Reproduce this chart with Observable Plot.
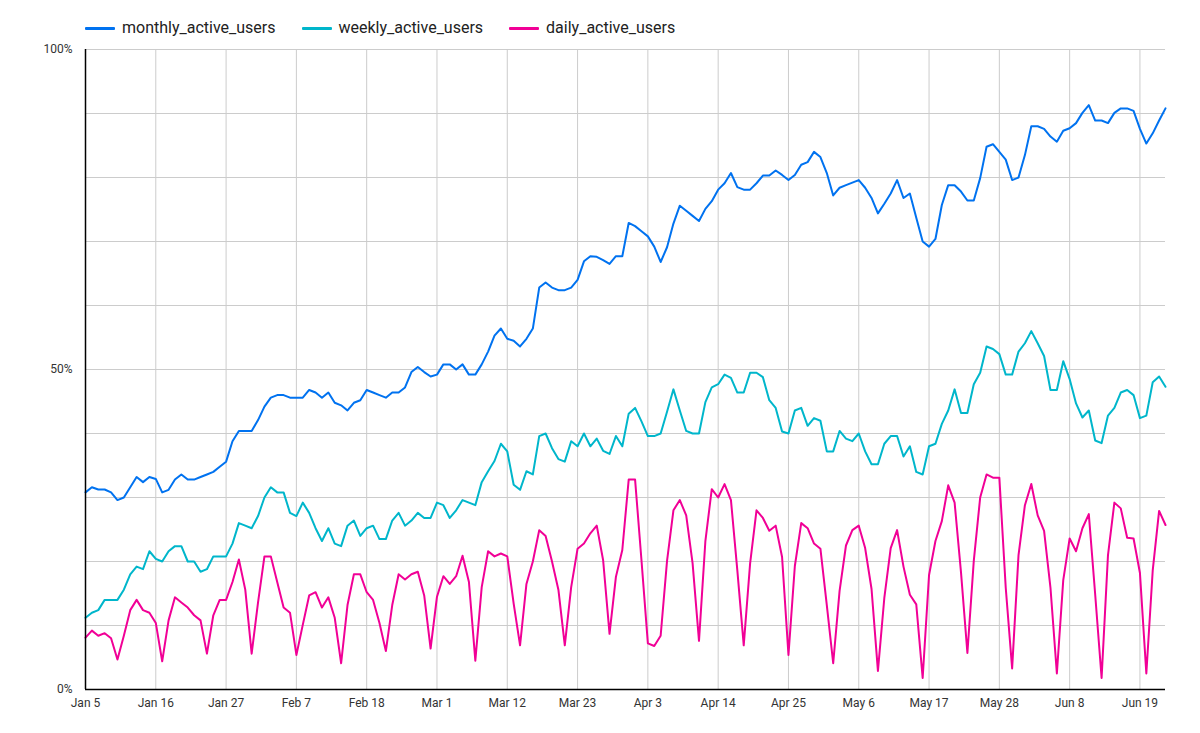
<!DOCTYPE html>
<html>
<head>
<meta charset="utf-8">
<script src="https://cdn.jsdelivr.net/npm/d3@7"></script>
<script src="https://cdn.jsdelivr.net/npm/@observablehq/plot@0.6"></script>
<style>
  body { margin: 0; background: #fff; font-family: Roboto, "Noto Sans", sans-serif; }
  #legend { height: 40px; box-sizing: border-box; padding-left: 85px; padding-top: 18px; display: flex; gap: 26px; font-size: 16px; color: #222; }
  .item { display: flex; align-items: center; gap: 7px; height: 20px; line-height: 20px; }
  .sw { width: 30px; height: 3px; border-radius: 1px; }
</style>
</head>
<body>
<div id="legend"></div>
<div id="chart"></div>
<script>
const seriesNames = ["monthly_active_users", "weekly_active_users", "daily_active_users"];
const seriesColors = ["#0072f0", "#00b6cb", "#f10096"];
const startDate = "2019-01-05";
const endDate = "2019-06-23";
const tickLabels = ["Jan 5","Jan 16","Jan 27","Feb 7","Feb 18","Mar 1","Mar 12","Mar 23","Apr 3","Apr 14","Apr 25","May 6","May 17","May 28","Jun 8","Jun 19"];
const yTicks = [0, 50, 100];

const monthly = [30.8,31.6,31.25,31.25,30.8,29.6,30.0,31.6,33.2,32.4,33.2,32.9,30.8,31.2,32.8,33.6,32.8,32.8,33.2,33.6,
34.0,34.8,35.6,38.8,40.4,40.4,40.4,42.1,44.2,45.6,46.0,46.0,45.6,45.6,45.6,46.8,46.4,45.6,46.4,44.8,
44.4,43.6,44.8,45.2,46.8,46.4,46.0,45.6,46.4,46.4,47.2,49.6,50.4,49.6,48.9,49.2,50.8,50.8,50.0,50.8,
49.2,49.2,50.8,52.8,55.3,56.4,54.8,54.5,53.6,54.8,56.4,62.8,63.6,62.8,62.4,62.4,62.8,64.0,66.9,67.7,
67.6,67.1,66.5,67.7,67.7,72.9,72.4,71.6,70.8,69.2,66.8,69.1,72.8,75.6,74.8,74.0,73.2,75.1,76.3,78.1,
79.1,80.7,78.5,78.1,78.1,79.1,80.3,80.3,81.1,80.4,79.6,80.4,82.0,82.4,84.0,83.2,80.7,77.2,78.4,78.8,
79.2,79.6,78.4,76.8,74.4,75.9,77.5,79.6,76.8,77.5,73.7,70.0,69.2,70.4,75.7,78.8,78.8,77.8,76.4,76.4,
79.9,84.8,85.2,84.0,82.8,79.6,80.0,83.5,88.0,88.0,87.6,86.4,85.6,87.3,87.7,88.5,90.1,91.3,88.9,88.9,
88.5,90.1,90.8,90.8,90.4,87.6,85.3,86.9,88.9,90.8];

const weekly = [11.2,12.0,12.4,14.0,14.0,14.0,15.6,18.0,19.2,18.8,21.6,20.4,20.0,21.6,22.4,22.4,20.0,20.0,18.4,18.8,
20.8,20.8,20.8,22.8,26.0,25.6,25.2,27.1,30.0,31.6,30.8,30.8,27.6,27.1,29.2,27.6,25.2,23.2,25.2,22.8,
22.4,25.6,26.4,24.0,25.2,25.6,23.5,23.5,26.4,27.6,25.6,26.4,27.6,26.8,26.8,29.2,28.8,26.8,28.0,29.6,
29.2,28.8,32.4,34.1,35.7,38.4,37.2,32.0,31.2,34.1,33.6,39.6,40.0,37.7,36.0,35.6,38.8,38.0,40.0,38.0,
39.2,37.3,36.8,39.6,38.0,43.1,44.0,41.9,39.6,39.6,40.0,43.4,46.9,43.6,40.4,40.0,40.0,44.9,47.2,47.7,
49.2,48.7,46.4,46.4,49.5,49.5,48.8,45.2,44.0,40.3,40.0,43.6,44.0,41.2,42.4,42.0,37.2,37.2,40.4,39.2,
38.8,40.0,37.2,35.2,35.2,38.4,39.6,39.6,36.4,38.0,34.0,33.6,38.0,38.4,41.5,43.6,46.9,43.2,43.2,47.7,
49.5,53.6,53.2,52.4,49.2,49.2,52.8,54.1,56.0,54.1,52.1,46.8,46.8,51.3,48.5,44.7,42.5,43.6,38.9,38.5,
42.8,44.0,46.4,46.8,46.0,42.4,42.8,48.0,48.9,47.3];

const daily = [8.1,9.2,8.4,8.8,8.0,4.7,8.4,12.4,14.0,12.4,12.0,10.4,4.4,10.8,14.4,13.6,12.8,11.6,10.8,5.6,
11.6,14.0,14.0,16.8,20.3,15.6,5.6,13.6,20.8,20.8,16.8,12.8,12.0,5.4,10.1,14.7,15.2,12.8,14.4,11.2,
4.1,13.2,18.0,18.0,15.2,14.0,10.4,6.0,13.2,18.0,17.2,18.0,18.4,14.7,6.4,14.5,17.7,16.5,17.7,20.9,
16.8,4.5,16.0,21.6,20.8,21.25,20.8,13.4,6.9,16.5,20.0,24.9,24.0,20.0,15.6,6.9,16.0,22.0,22.8,24.4,
25.6,20.2,8.7,17.6,21.8,32.8,32.8,20.2,7.2,6.8,8.4,20.1,28.0,29.6,27.2,19.7,7.6,23.2,31.3,30.0,
32.1,29.6,18.6,6.9,19.7,28.0,26.8,24.8,25.6,20.7,5.4,19.3,26.0,25.2,22.8,22.0,13.2,4.1,15.4,22.5,
24.9,25.6,22.1,15.7,2.9,14.3,22.1,24.9,19.2,14.8,13.3,1.8,17.9,23.2,26.3,31.9,29.2,18.3,5.7,20.1,
30.0,33.6,33.1,33.1,15.9,3.3,21.0,28.8,32.1,27.2,24.8,15.9,2.5,17.1,23.6,21.6,25.2,27.4,14.8,1.8,
21.0,29.2,28.3,23.7,23.6,18.2,2.5,18.6,27.9,25.7];

const seriesValues = [monthly, weekly, daily];

// legend
const legend = document.getElementById("legend");
seriesNames.forEach((n, k) => {
  const it = document.createElement("div");
  it.className = "item";
  it.innerHTML = `<span class="sw" style="background:${seriesColors[k]}"></span><span>${n}</span>`;
  legend.appendChild(it);
});

const t0 = new Date(startDate + "T00:00:00Z");
const t1 = new Date(endDate + "T00:00:00Z");
const day = 864e5;
const rows = [];
seriesValues.forEach((vals, k) => {
  vals.forEach((v, i) => rows.push({date: new Date(+t0 + i * day), value: v, series: seriesNames[k]}));
});
const tickDates = tickLabels.map((_, i) => new Date(+t0 + i * 11 * day));

const chart = Plot.plot({
  width: 1200,
  height: 693,
  marginLeft: 85,
  marginRight: 35,
  marginTop: 9,
  marginBottom: 44,
  style: {fontFamily: "Roboto, 'Noto Sans', sans-serif", fontSize: "12px", color: "#333", background: "#fff"},
  x: {type: "utc", domain: [t0, t1]},
  y: {domain: [0, 100]},
  color: {domain: seriesNames, range: seriesColors},
  marks: [
    Plot.gridY(d3.range(0, 101, 10), {stroke: "#cccccc", strokeOpacity: 1}),
    Plot.gridX(tickDates, {stroke: "#cccccc", strokeOpacity: 1}),
    Plot.axisX(tickDates, {tickSize: 0, tickPadding: 9, label: null, fill: "#333", fontSize: 12,
      tickFormat: (d) => tickLabels[tickDates.findIndex(t => +t === +d)]}),
    Plot.axisY(yTicks, {tickSize: 0, tickPadding: 13, label: null, fill: "#333", fontSize: 12, tickFormat: d => d + "%"}),
    Plot.lineY(rows, {x: "date", y: "value", z: "series", stroke: "series", strokeWidth: 2, curve: "linear"}),
    Plot.ruleY([0], {stroke: "#000", strokeWidth: 1.5}),
    Plot.ruleX([t0], {stroke: "#000", strokeWidth: 1.5})
  ]
});
document.getElementById("chart").appendChild(chart);
</script>
</body>
</html>
